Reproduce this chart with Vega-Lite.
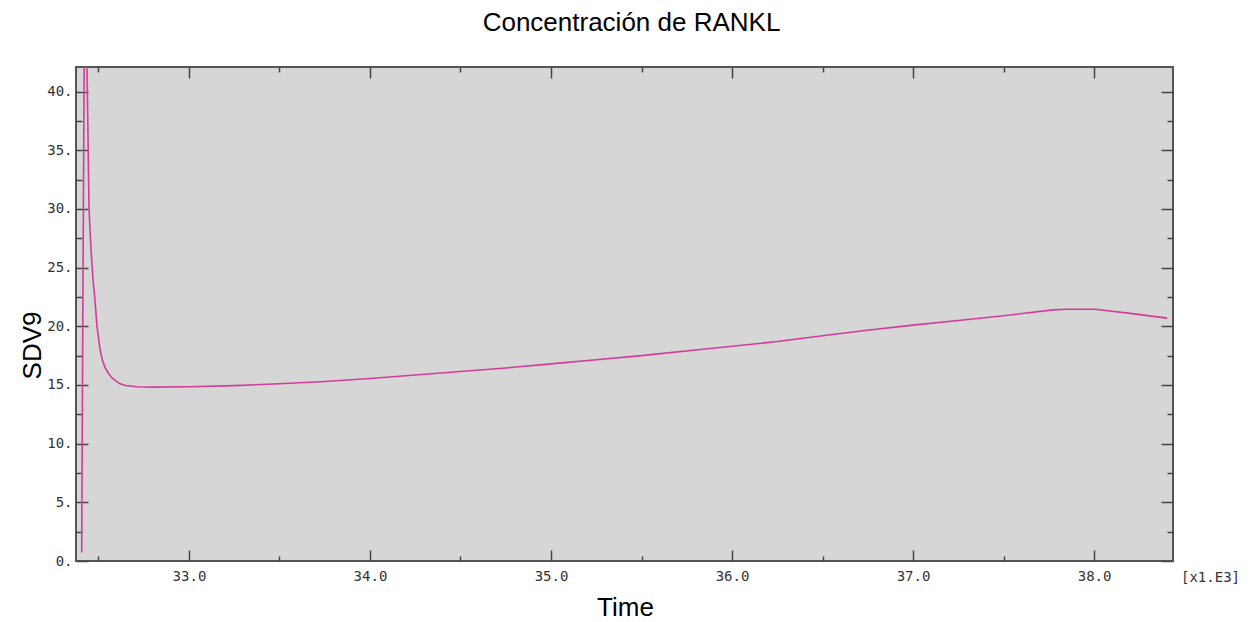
{
  "$schema": "https://vega.github.io/schema/vega-lite/v6.json",
  "width": 1097,
  "height": 494,
  "autosize": {"type": "none"},
  "padding": {"left": 76, "top": 67, "right": 77, "bottom": 61},
  "background": "white",
  "title": {
    "text": "Concentración de RANKL",
    "font": "Liberation Sans",
    "fontSize": 26,
    "fontWeight": "normal",
    "color": "black",
    "anchor": "middle",
    "baseline": "alphabetic",
    "offset": 9,
    "dx": 7
  },
  "config": {
    "view": {"fill": "#d6d6d6", "stroke": "#555555", "strokeWidth": 2},
    "axis": {
      "grid": false,
      "domain": false,
      "tickColor": "#444444",
      "tickWidth": 1.5,
      "labelFont": "DejaVu Sans Mono",
      "labelFontSize": 14,
      "labelColor": "#333333",
      "titleFont": "Liberation Sans",
      "titleFontSize": 26,
      "titleFontWeight": "normal",
      "titleColor": "black"
    }
  },
  "data": {
    "values": [
      {"t": 32.4075, "v": 0.7},
      {"t": 32.414, "v": 22},
      {"t": 32.421, "v": 42},
      {"t": 32.429, "v": 46},
      {"t": 32.437, "v": 42},
      {"t": 32.448, "v": 30},
      {"t": 32.459, "v": 26.5},
      {"t": 32.47, "v": 24},
      {"t": 32.481, "v": 22.2},
      {"t": 32.492, "v": 20},
      {"t": 32.509, "v": 18},
      {"t": 32.522, "v": 17.1},
      {"t": 32.536, "v": 16.5},
      {"t": 32.555, "v": 16.0},
      {"t": 32.575, "v": 15.6},
      {"t": 32.6, "v": 15.3},
      {"t": 32.619, "v": 15.1},
      {"t": 32.65, "v": 14.95},
      {"t": 32.713, "v": 14.85},
      {"t": 32.8, "v": 14.82},
      {"t": 33.0, "v": 14.85},
      {"t": 33.25, "v": 14.95},
      {"t": 33.5, "v": 15.1},
      {"t": 33.75, "v": 15.3},
      {"t": 34.0, "v": 15.55},
      {"t": 34.25, "v": 15.85},
      {"t": 34.5, "v": 16.15},
      {"t": 34.75, "v": 16.45},
      {"t": 35.0, "v": 16.8},
      {"t": 35.25, "v": 17.15},
      {"t": 35.5, "v": 17.5},
      {"t": 35.824, "v": 18.03},
      {"t": 36.0, "v": 18.3},
      {"t": 36.25, "v": 18.7},
      {"t": 36.5, "v": 19.2},
      {"t": 36.746, "v": 19.66},
      {"t": 37.0, "v": 20.1},
      {"t": 37.25, "v": 20.5},
      {"t": 37.5, "v": 20.9},
      {"t": 37.774, "v": 21.4},
      {"t": 37.85, "v": 21.45},
      {"t": 38.006, "v": 21.45},
      {"t": 38.2, "v": 21.1},
      {"t": 38.404, "v": 20.7}
    ]
  },
  "layer": [
    {
      "mark": {"type": "line", "color": "#d43c9c", "strokeWidth": 1.6, "clip": true},
      "encoding": {
        "x": {
          "field": "t",
          "type": "quantitative",
          "scale": {"domain": [32.376, 38.436], "nice": false, "zero": false},
          "axis": {
            "orient": "bottom",
            "title": "Time",
            "titleX": 549,
            "titleY": 54,
            "titleBaseline": "alphabetic",
            "titleAlign": "center",
            "values": [32.5, 33, 33.5, 34, 34.5, 35, 35.5, 36, 36.5, 37, 37.5, 38],
            "labelExpr": "(datum.value * 2) % 2 === 0 ? format(datum.value, '.1f') : ''",
            "tickSize": {"condition": {"test": "(datum.value * 2) % 2 === 0", "value": -11}, "value": -5},
            "labelPadding": 19,
            "labelBaseline": "top"
          }
        },
        "y": {
          "field": "v",
          "type": "quantitative",
          "scale": {"domain": [0, 42.1], "nice": false},
          "axis": {
            "orient": "left",
            "title": "SDV9",
            "titleAngle": -90,
            "titleX": -36,
            "titleY": 278,
            "titleBaseline": "alphabetic",
            "titleAlign": "center",
            "values": [0, 2.5, 5, 7.5, 10, 12.5, 15, 17.5, 20, 22.5, 25, 27.5, 30, 32.5, 35, 37.5, 40],
            "labelExpr": "datum.value % 5 === 0 ? format(datum.value, 'd') + '.' : ''",
            "tickSize": {"condition": {"test": "datum.value % 5 === 0", "value": -12}, "value": -6},
            "labelPadding": 16,
            "labelAlign": "right",
            "labelBaseline": "middle"
          }
        }
      }
    },
    {
      "mark": {"type": "line", "opacity": 0, "clip": true},
      "encoding": {
        "x": {
          "field": "t",
          "type": "quantitative",
          "scale": {"domain": [32.376, 38.436], "nice": false, "zero": false},
          "axis": {
            "orient": "top",
            "title": null,
            "values": [32.5, 33, 33.5, 34, 34.5, 35, 35.5, 36, 36.5, 37, 37.5, 38],
            "labels": false,
            "tickSize": {"condition": {"test": "(datum.value * 2) % 2 === 0", "value": -11}, "value": -5}
          }
        },
        "y": {
          "field": "v",
          "type": "quantitative",
          "scale": {"domain": [0, 42.1], "nice": false},
          "axis": {
            "orient": "right",
            "title": "[x1.E3]",
            "titleFont": "DejaVu Sans Mono",
            "titleFontSize": 14,
            "titleColor": "#333333",
            "titleX": 37,
            "titleY": 514,
            "titleAngle": 0,
            "titleBaseline": "alphabetic",
            "titleAlign": "center",
            "values": [0, 2.5, 5, 7.5, 10, 12.5, 15, 17.5, 20, 22.5, 25, 27.5, 30, 32.5, 35, 37.5, 40],
            "labels": false,
            "tickSize": {"condition": {"test": "datum.value % 5 === 0", "value": -12}, "value": -6}
          }
        }
      }
    }
  ],
  "resolve": {"axis": {"x": "independent", "y": "independent"}}
}
